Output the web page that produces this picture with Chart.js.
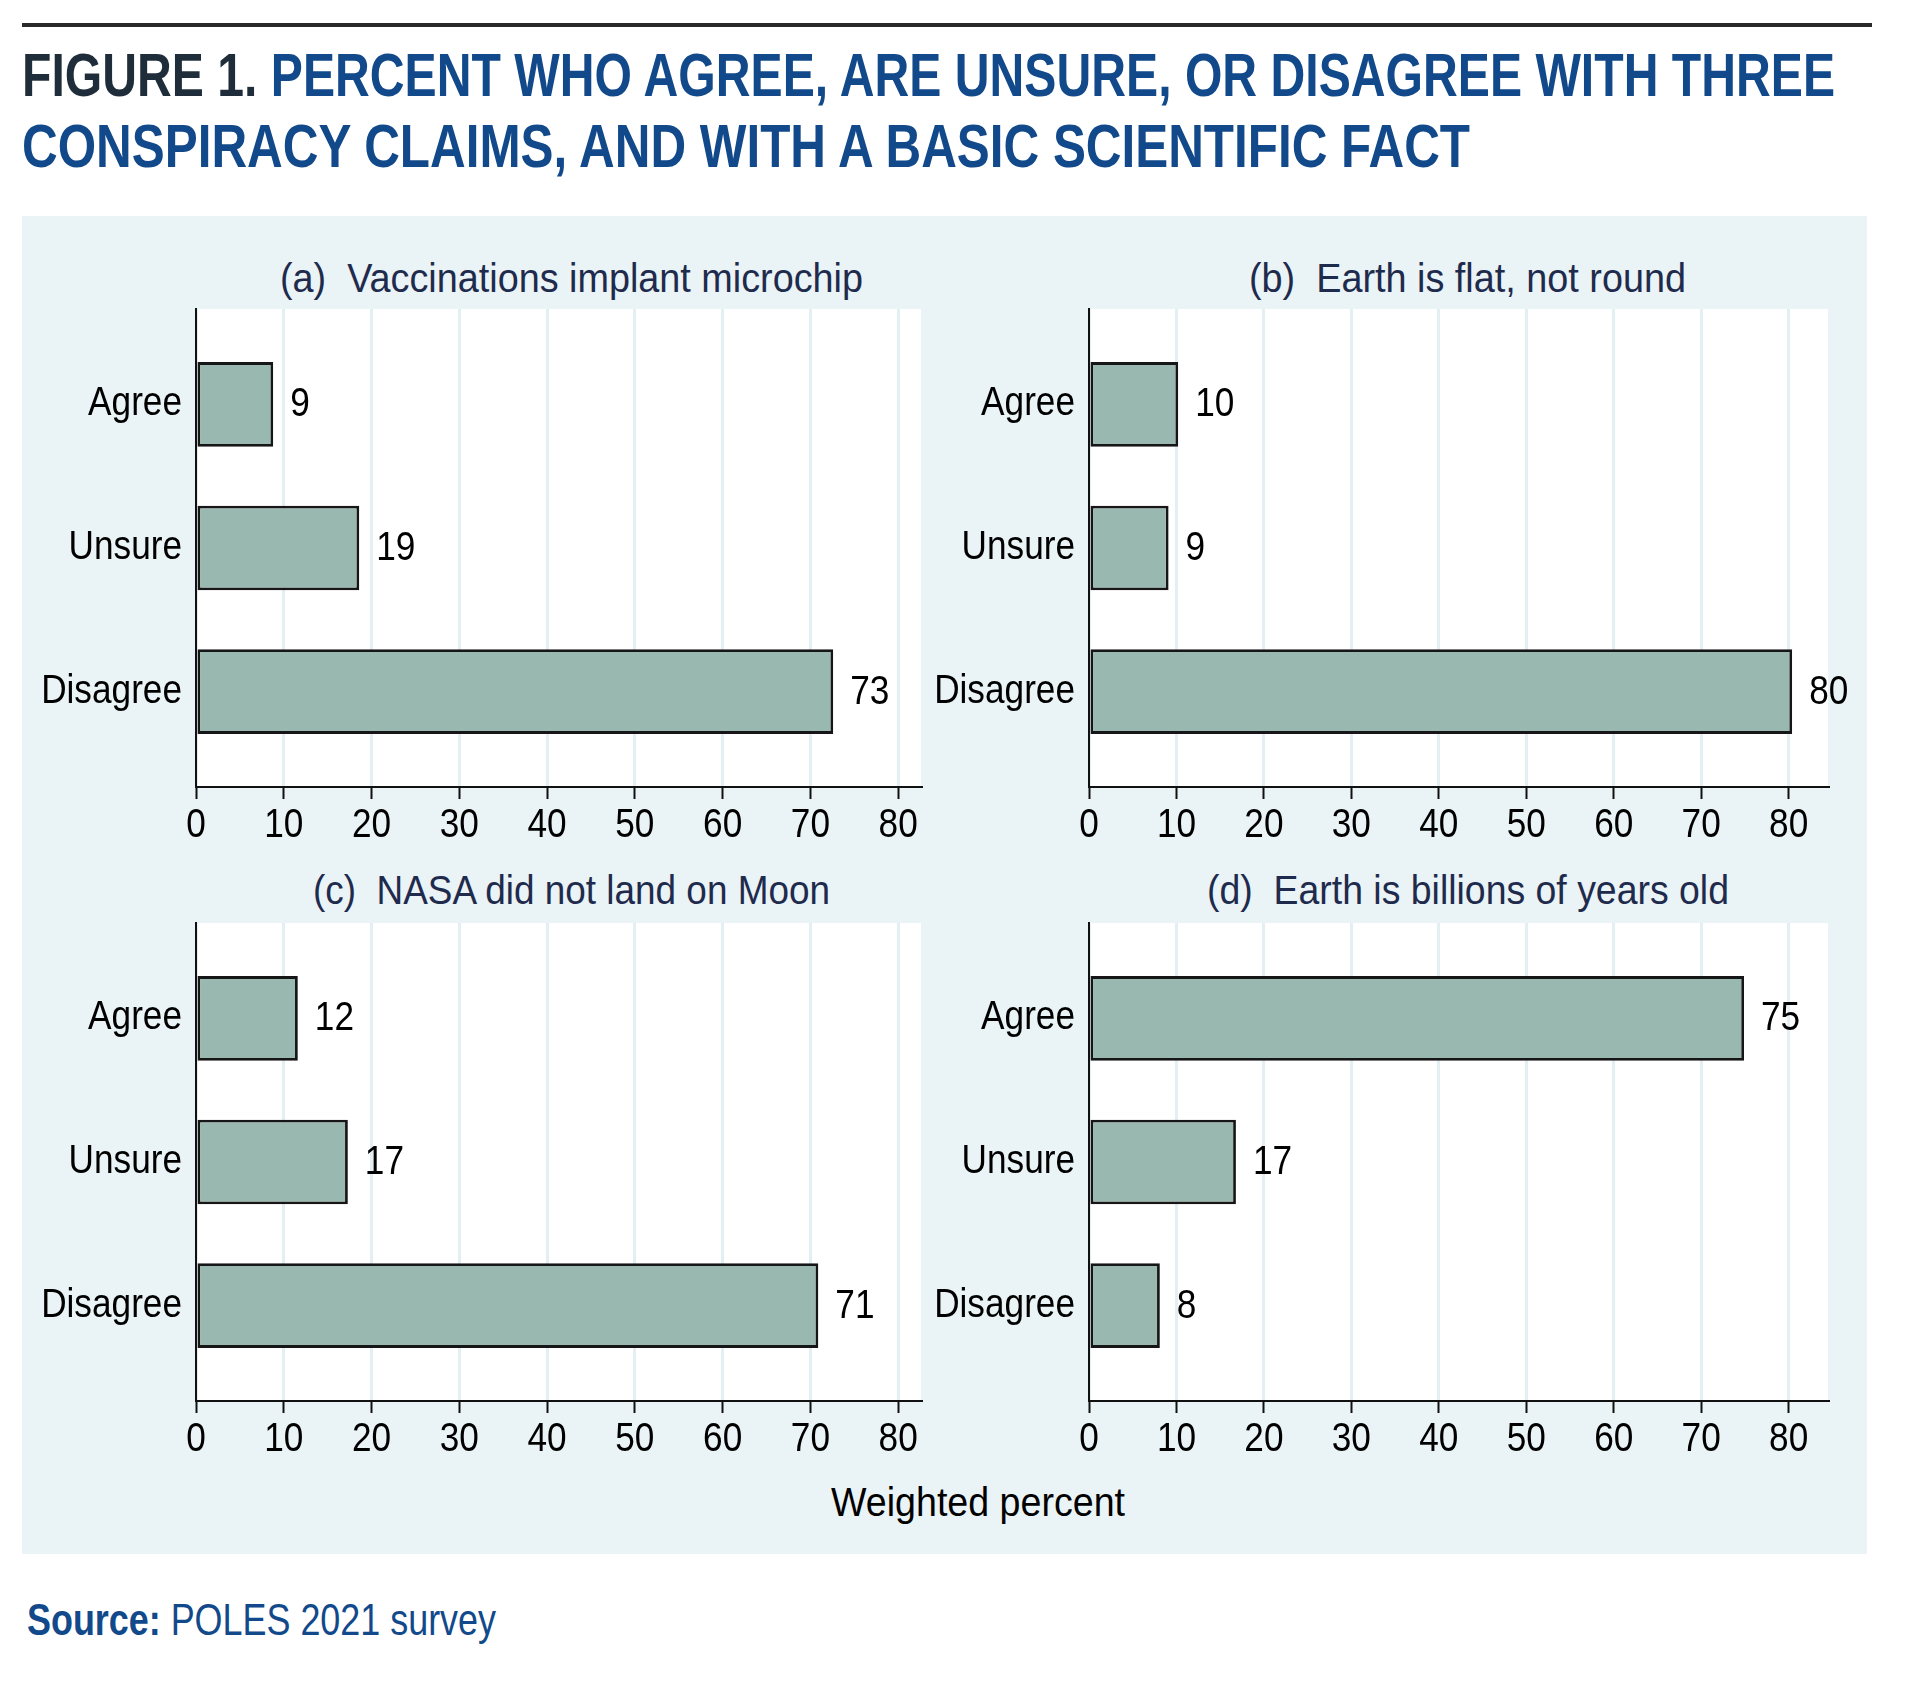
<!DOCTYPE html>
<html>
<head>
<meta charset="utf-8">
<script src="https://cdn.jsdelivr.net/npm/chart.js@4.4.1/dist/chart.umd.min.js"></script>
<style>
  body { margin:0; width:1922px; height:1682px; background:#fff; position:relative; overflow:hidden;
         font-family:'Liberation Sans',Arial,sans-serif; }
  .rule { position:absolute; left:22px; top:23px; width:1850px; height:4px; background:#2a2a2a; }
  .panel { position:absolute; left:22px; top:216px; width:1845px; height:1338px; background:#eaf3f6; }
  .txt { position:absolute; white-space:nowrap; transform-origin:0 0; line-height:1; }
  .head { font-weight:bold; font-size:62px; color:#12498a; }
  .sub { font-size:41px; color:#1f2b4d; }
  canvas { position:absolute; }
</style>
</head>
<body>
<div class="rule"></div>
<div class="txt head" style="left:22px;top:44px" data-w="1813"><span style="color:#1f2d3a">FIGURE 1.</span> PERCENT WHO AGREE, ARE UNSURE, OR DISAGREE WITH THREE</div>
<div class="txt head" style="left:22px;top:115px" data-w="1448">CONSPIRACY CLAIMS, AND WITH A BASIC SCIENTIFIC FACT</div>
<div class="panel"></div>

<div class="txt sub" style="top:258px" data-w="583" data-c="571">(a)&nbsp; Vaccinations implant microchip</div>
<div class="txt sub" style="top:258px" data-w="437" data-c="1467">(b)&nbsp; Earth is flat, not round</div>
<div class="txt sub" style="top:870px" data-w="517" data-c="571">(c)&nbsp; NASA did not land on Moon</div>
<div class="txt sub" style="top:870px" data-w="522" data-c="1468">(d)&nbsp; Earth is billions of years old</div>

<canvas id="cA" width="908" height="550" style="left:22px;top:300px"></canvas>
<canvas id="cB" width="937" height="550" style="left:930px;top:300px"></canvas>
<canvas id="cC" width="908" height="550" style="left:22px;top:914px"></canvas>
<canvas id="cD" width="937" height="550" style="left:930px;top:914px"></canvas>

<div class="txt" style="top:1482px;font-size:40px;color:#000" data-w="294" data-c="978">Weighted percent</div>
<div class="txt" style="left:27px;top:1598px;font-size:44px;color:#12498a" data-w="469"><b>Source:</b> POLES 2021 survey</div>

<script>
// categories, top to bottom
var categories = ["Agree", "Unsure", "Disagree"];
// weighted percent
var vaccineChip = [8.8, 18.6, 72.6];
var flatEarth   = [10.2, 9.1, 80.4];
var moonLanding = [11.6, 17.3, 70.9];
var earthAge    = [74.9, 16.8, 8.1];
var xTicks = [0, 10, 20, 30, 40, 50, 60, 70, 80];

var FONT = "'Liberation Sans',Arial,sans-serif";
var SQUEEZE = 0.88; // condensed look for canvas text

// fit html text to measured widths
document.querySelectorAll('.txt[data-w]').forEach(function(el){
  var w = el.getBoundingClientRect().width;
  var target = +el.dataset.w;
  el.style.transform = 'scaleX(' + (target / w) + ')';
  if (el.dataset.c) el.style.left = (+el.dataset.c - target / 2) + 'px';
});

// squeeze every label chart.js writes, around its own anchor point
var condense = {
  id: 'condense',
  beforeInit: function(chart){
    var ctx = chart.ctx;
    if (ctx._squeezed) return;
    var orig = ctx.fillText;
    ctx.fillText = function(t, x, y){
      this.save();
      this.translate(x, y);
      this.scale(SQUEEZE, 1);
      orig.call(this, t, 0, 0);
      this.restore();
    };
    ctx._squeezed = true;
  }
};

var plotBg = {
  id: 'plotBg',
  beforeDraw: function(chart){
    var a = chart.chartArea, ctx = chart.ctx;
    ctx.save();
    ctx.fillStyle = '#ffffff';
    ctx.fillRect(a.left, a.top, a.right - a.left, a.bottom - a.top);
    ctx.restore();
  }
};

var barLabels = {
  id: 'barLabels',
  afterDatasetsDraw: function(chart){
    var ctx = chart.ctx;
    var meta = chart.getDatasetMeta(0);
    ctx.save();
    ctx.font = '40px ' + FONT;
    ctx.fillStyle = '#000';
    ctx.textBaseline = 'middle';
    ctx.textAlign = 'left';
    meta.data.forEach(function(bar, i){
      var v = chart.data.datasets[0].data[i].x;
      ctx.fillText(String(Math.round(v)), bar.x + 17, bar.y + 1);
    });
    ctx.restore();
  }
};

function makePanel(id, values, xMax, plotLeft, rightPad){
  new Chart(document.getElementById(id), {
    type: 'bar',
    data: {
      datasets: [{
        data: values.map(function(v, i){ return {x: v, y: i}; }),
        backgroundColor: '#99b8b0',
        borderColor: '#161616',
        borderWidth: 2.8,
        borderSkipped: false,
        barPercentage: 0.59,
        categoryPercentage: 1
      }]
    },
    options: {
      indexAxis: 'y',
      responsive: false,
      animation: false,
      devicePixelRatio: 1,
      layout: { padding: { left: 0, right: rightPad, top: 9, bottom: 0 } },
      plugins: { legend: { display: false }, tooltip: { enabled: false }, title: { display: false } },
      scales: {
        x: {
          type: 'linear',
          min: 0, max: xMax,
          afterFit: function(s){ s.height = 63; s.paddingLeft = 0; s.paddingRight = 0; },
          afterBuildTicks: function(s){ s.ticks = xTicks.map(function(v){ return {value: v}; }); },
          ticks: { color: '#000', font: { size: 40, family: FONT }, padding: 3, maxRotation: 0, autoSkip: false },
          grid: { color: '#e4eff3', lineWidth: 3, tickColor: '#111', tickLength: 12, tickWidth: 2 },
          border: { color: '#111', width: 2 }
        },
        y: {
          type: 'linear',
          reverse: true,
          offset: false,
          min: -0.665, max: 2.665,
          afterFit: function(s){ s.width = plotLeft; s.paddingTop = 0; s.paddingBottom = 0; },
          afterBuildTicks: function(s){ s.ticks = categories.map(function(c, i){ return {value: i}; }); },
          ticks: {
            color: '#000', font: { size: 40, family: FONT }, padding: 14, autoSkip: false,
            callback: function(v){ return categories[v] || ''; }
          },
          grid: { display: false, drawTicks: false, tickLength: 0, offset: false },
          border: { color: '#111', width: 2 }
        }
      }
    },
    plugins: [condense, plotBg, barLabels]
  });
}

makePanel('cA', vaccineChip, 82.6, 174, 9);
makePanel('cB', flatEarth,   84.5, 159, 39);
makePanel('cC', moonLanding, 82.6, 174, 9);
makePanel('cD', earthAge,    84.5, 159, 39);
</script>
</body>
</html>
